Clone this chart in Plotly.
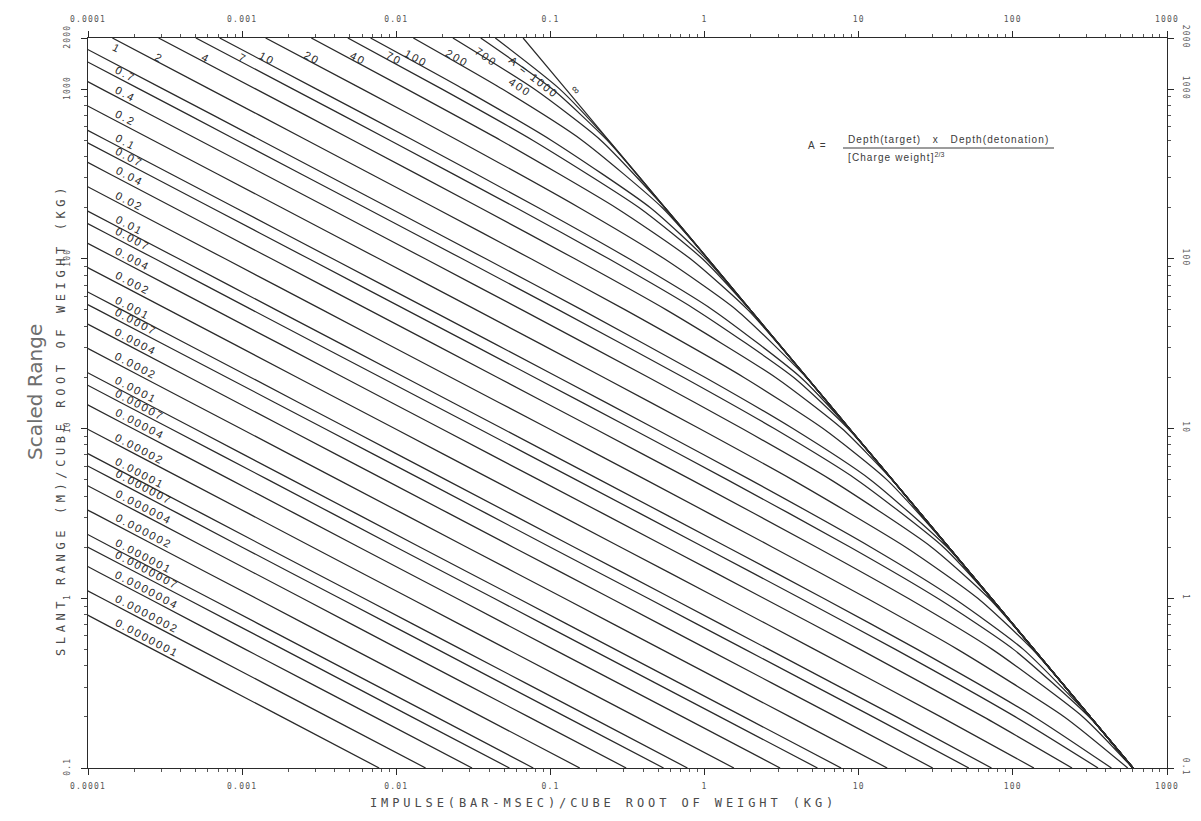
import numpy as np
import plotly.graph_objects as go

# ---------------- data ----------------
# scaled slant range (m / kg^(1/3)) at which every curve is sampled
SCALED_RANGE = [2000, 1000, 500, 200, 100, 50, 20, 10, 5, 2, 1, 0.5, 0.2, 0.1]

# scaled impulse (bar-ms / kg^(1/3)) of each A-curve at the ranges above
LABELS_SMALL_A = ["0.0000001", "0.0000002", "0.0000004", "0.0000007", "0.000001", "0.000002",
                  "0.000004", "0.000007", "0.00001", "0.00002", "0.00004", "0.00007"]
IMPULSE_SMALL_A = [
    [7.19e-12, 3.08e-11, 1.32e-10, 9.05e-10, 3.88e-09, 1.66e-08, 1.14e-07, 4.89e-07, 2.09e-06, 1.43e-05, 6.15e-05, 0.000264, 0.00181, 0.00774],
    [1.44e-11, 6.16e-11, 2.64e-10, 1.81e-09, 7.76e-09, 3.33e-08, 2.28e-07, 9.77e-07, 4.19e-06, 2.87e-05, 0.000123, 0.000527, 0.00361, 0.0155],
    [2.88e-11, 1.23e-10, 5.29e-10, 3.62e-09, 1.55e-08, 6.65e-08, 4.56e-07, 1.95e-06, 8.38e-06, 5.74e-05, 0.000246, 0.00105, 0.00722, 0.031],
    [5.03e-11, 2.16e-10, 9.25e-10, 6.34e-09, 2.72e-08, 1.16e-07, 7.98e-07, 3.42e-06, 1.47e-05, 0.0001, 0.00043, 0.00185, 0.0126, 0.0542],
    [7.19e-11, 3.08e-10, 1.32e-09, 9.05e-09, 3.88e-08, 1.66e-07, 1.14e-06, 4.89e-06, 2.09e-05, 0.000143, 0.000615, 0.00264, 0.0181, 0.0774],
    [1.44e-10, 6.16e-10, 2.64e-09, 1.81e-08, 7.76e-08, 3.33e-07, 2.28e-06, 9.77e-06, 4.19e-05, 0.000287, 0.00123, 0.00527, 0.0361, 0.155],
    [2.88e-10, 1.23e-09, 5.29e-09, 3.62e-08, 1.55e-07, 6.65e-07, 4.56e-06, 1.95e-05, 8.38e-05, 0.000574, 0.00246, 0.0105, 0.0722, 0.31],
    [5.03e-10, 2.16e-09, 9.25e-09, 6.34e-08, 2.72e-07, 1.16e-06, 7.98e-06, 3.42e-05, 0.000147, 0.001, 0.0043, 0.0185, 0.126, 0.542],
    [7.19e-10, 3.08e-09, 1.32e-08, 9.05e-08, 3.88e-07, 1.66e-06, 1.14e-05, 4.89e-05, 0.000209, 0.00143, 0.00615, 0.0264, 0.181, 0.774],
    [1.44e-09, 6.16e-09, 2.64e-08, 1.81e-07, 7.76e-07, 3.33e-06, 2.28e-05, 9.77e-05, 0.000419, 0.00287, 0.0123, 0.0527, 0.361, 1.55],
    [2.88e-09, 1.23e-08, 5.29e-08, 3.62e-07, 1.55e-06, 6.65e-06, 4.56e-05, 0.000195, 0.000838, 0.00574, 0.0246, 0.105, 0.722, 3.09],
    [5.03e-09, 2.16e-08, 9.25e-08, 6.34e-07, 2.72e-06, 1.16e-05, 7.98e-05, 0.000342, 0.00147, 0.01, 0.043, 0.184, 1.26, 5.4],
]

LABELS_MID_A = ["0.0001", "0.0002", "0.0004", "0.0007", "0.001", "0.002", "0.004", "0.007"]
IMPULSE_MID_A = [
    [7.19e-09, 3.08e-08, 1.32e-07, 9.05e-07, 3.88e-06, 1.66e-05, 0.000114, 0.000488, 0.00209, 0.0143, 0.0615, 0.263, 1.8, 7.69],
    [1.44e-08, 6.16e-08, 2.64e-07, 1.81e-06, 7.76e-06, 3.33e-05, 0.000228, 0.000977, 0.00419, 0.0287, 0.123, 0.526, 3.59, 15.3],
    [2.88e-08, 1.23e-07, 5.29e-07, 3.62e-06, 1.55e-05, 6.65e-05, 0.000456, 0.00195, 0.00838, 0.0573, 0.246, 1.05, 7.14, 30.2],
    [5.03e-08, 2.16e-07, 9.25e-07, 6.34e-06, 2.72e-05, 0.000116, 0.000798, 0.00342, 0.0147, 0.1, 0.429, 1.83, 12.4, 51.8],
    [7.19e-08, 3.08e-07, 1.32e-06, 9.05e-06, 3.88e-05, 0.000166, 0.00114, 0.00488, 0.0209, 0.143, 0.612, 2.61, 17.6, 72.7],
    [1.44e-07, 6.16e-07, 2.64e-06, 1.81e-05, 7.76e-05, 0.000333, 0.00228, 0.00976, 0.0418, 0.286, 1.22, 5.17, 34.1, 137],
    [2.88e-07, 1.23e-06, 5.29e-06, 3.62e-05, 0.000155, 0.000665, 0.00456, 0.0195, 0.0836, 0.57, 2.42, 10.2, 64.6, 242],
    [5.03e-07, 2.16e-06, 9.25e-06, 6.34e-05, 0.000272, 0.00116, 0.00797, 0.0341, 0.146, 0.991, 4.18, 17.3, 104, 357],
]

LABELS_UPPER_A = ["0.01", "0.02", "0.04", "0.07", "0.1", "0.2", "0.4", "0.7"]
IMPULSE_UPPER_A = [
    [7.19e-07, 3.08e-06, 1.32e-05, 9.05e-05, 0.000388, 0.00166, 0.0114, 0.0487, 0.208, 1.41, 5.9, 24, 138, 436],
    [1.44e-06, 6.16e-06, 2.64e-05, 0.000181, 0.000776, 0.00332, 0.0227, 0.0972, 0.414, 2.76, 11.3, 43.8, 216, 556],
    [2.88e-06, 1.23e-05, 5.29e-05, 0.000362, 0.00155, 0.00664, 0.0454, 0.193, 0.817, 5.33, 20.9, 73.6, 285, 599],
    [5.03e-06, 2.16e-05, 9.25e-05, 0.000633, 0.00271, 0.0116, 0.0791, 0.335, 1.4, 8.83, 32.5, 101, 312, 602],
    [7.19e-06, 3.08e-05, 0.000132, 0.000904, 0.00387, 0.0166, 0.113, 0.475, 1.97, 12, 41.4, 117, 317, 602],
    [1.44e-05, 6.16e-05, 0.000264, 0.00181, 0.00773, 0.033, 0.222, 0.924, 3.7, 20.2, 59.2, 134, 318, 602],
    [2.88e-05, 0.000123, 0.000528, 0.00361, 0.0154, 0.0654, 0.434, 1.75, 6.57, 29.7, 70, 137, 318, 602],
    [5.03e-05, 0.000216, 0.000923, 0.0063, 0.0268, 0.113, 0.732, 2.83, 9.71, 35.5, 72.2, 137, 318, 602],
]

LABELS_LARGE_A = ["1", "2", "4", "7", "10", "20", "40", "70", "100", "200", "400", "700", "A = 1000"]
IMPULSE_LARGE_A = [
    [7.19e-05, 0.000308, 0.00132, 0.00898, 0.0381, 0.16, 1.01, 3.74, 11.9, 37.4, 72.4, 137, 318, 602],
    [0.000144, 0.000615, 0.00263, 0.0178, 0.0748, 0.306, 1.8, 5.87, 15.2, 38.2, 72.4, 137, 318, 602],
    [0.000287, 0.00123, 0.00523, 0.035, 0.144, 0.565, 2.89, 7.78, 16.4, 38.3, 72.4, 137, 318, 602],
    [0.000501, 0.00214, 0.00907, 0.0599, 0.239, 0.88, 3.79, 8.53, 16.5, 38.3, 72.4, 137, 318, 602],
    [0.000715, 0.00304, 0.0129, 0.0835, 0.324, 1.13, 4.21, 8.67, 16.5, 38.3, 72.4, 137, 318, 602],
    [0.00142, 0.00602, 0.025, 0.154, 0.548, 1.61, 4.57, 8.7, 16.5, 38.3, 72.4, 137, 318, 602],
    [0.00281, 0.0117, 0.0474, 0.266, 0.809, 1.91, 4.6, 8.7, 16.5, 38.3, 72.4, 137, 318, 602],
    [0.00485, 0.0198, 0.0766, 0.377, 0.968, 1.97, 4.6, 8.7, 16.5, 38.3, 72.4, 137, 318, 602],
    [0.00681, 0.0273, 0.101, 0.445, 1.02, 1.98, 4.6, 8.7, 16.5, 38.3, 72.4, 137, 318, 602],
    [0.0129, 0.0487, 0.16, 0.532, 1.05, 1.98, 4.6, 8.7, 16.5, 38.3, 72.4, 137, 318, 602],
    [0.0233, 0.0786, 0.212, 0.552, 1.05, 1.98, 4.6, 8.7, 16.5, 38.3, 72.4, 137, 318, 602],
    [0.0353, 0.103, 0.233, 0.553, 1.05, 1.98, 4.6, 8.7, 16.5, 38.3, 72.4, 137, 318, 602],
    [0.0439, 0.115, 0.237, 0.553, 1.05, 1.98, 4.6, 8.7, 16.5, 38.3, 72.4, 137, 318, 602],
]

LABEL_A_INF = "\u221e"
IMPULSE_A_INF = [0.0665, 0.126, 0.238, 0.553, 1.05, 1.98, 4.6, 8.7, 16.5, 38.3, 72.4, 137, 318, 602]

X_TICKS = [0.0001, 0.001, 0.01, 0.1, 1, 10, 100, 1000]
X_TICK_TEXT = ["0.0001", "0.001", "0.01", "0.1", "1", "10", "100", "1000"]
Y_TICKS = [0.1, 1, 10, 100, 1000, 2000]
Y_TICK_TEXT = ["0.1", "1", "10", "100", "1000", "2000"]

# ---------------- layout constants (screen pixels) ----------------
OFF = 8                       # default page margin around the plot div
W, H = 1201 - 2 * OFF, 821 - 2 * OFF
PL, PR, PT, PB = 88, 1167, 38, 768      # plot area edges on screen
ML, MT = PL - OFF, PT - OFF
MR, MB = W - (PR - OFF), H - (PB - OFF)
PW, PH = PR - PL, PB - PT
XR = [-4, 3]
YR = [-1, float(np.log10(2000))]
INK = "#2a2a2a"
GREY = "#555555"


def paper(px, py):
    return (px - PL) / PW, (PB - py) / PH


def curve_pixels(xs):
    cx = PL + (np.log10(np.array(xs, float)) - XR[0]) / (XR[1] - XR[0]) * PW
    cy = PT + (YR[1] - np.log10(np.array(SCALED_RANGE, float))) / (YR[1] - YR[0]) * PH
    return cx, cy


def spaced(s, sp):
    return '<span style="letter-spacing:%spx">%s</span>' % (sp, s)


curves = []
for lab, row in zip(LABELS_SMALL_A, IMPULSE_SMALL_A):
    curves.append((lab, row, "left"))
for lab, row in zip(LABELS_MID_A, IMPULSE_MID_A):
    curves.append((lab, row, "left"))
for lab, row in zip(LABELS_UPPER_A, IMPULSE_UPPER_A):
    curves.append((lab, row, "left"))
for lab, row in zip(LABELS_LARGE_A, IMPULSE_LARGE_A):
    curves.append((lab, row, "top"))
curves.append((LABEL_A_INF, IMPULSE_A_INF, "top"))

fig = go.Figure()
for lab, row, _ in curves:
    fig.add_trace(go.Scatter(
        x=row, y=SCALED_RANGE, mode="lines", name="A = " + lab,
        line=dict(color=INK, width=1.25, shape="spline", smoothing=0.6),
        hoverinfo="skip", showlegend=False))

# invisible trace carrying the mirrored (top / right) axes
fig.add_trace(go.Scatter(x=[X_TICKS[0], X_TICKS[-1]], y=[Y_TICKS[0], Y_TICKS[-1]],
                         xaxis="x2", yaxis="y2", mode="markers",
                         marker=dict(opacity=0), hoverinfo="skip", showlegend=False))

# ---------------- curve labels ----------------
# top labels: (screen y of the label centre, horizontal offset from the curve)
TOP_LABEL_POS = {"1": (48, 32), "700": (57, -21), "A = 1000": (77, -11),
                 "400": (87, -11), LABEL_A_INF: (90, 10)}
annotations = []
LFONT = dict(family="Liberation Sans", size=11, color=INK)
for lab, row, kind in curves:
    cx, cy = curve_pixels(row)
    if kind == "left":
        w = sum(0.556 * 11 + 2 if ch.isdigit() else 0.278 * 11 + 2 for ch in lab)
        x0 = 113.0
        sl = (np.interp(x0 + 20, cx, cy) - np.interp(x0, cx, cy)) / 20
        th = np.arctan(sl)
        px = x0 + 0.5 * w * np.cos(th)
        py = np.interp(px, cx, cy)
        px2 = px + 7 * np.sin(th)
        py2 = py - 7 * np.cos(th)
    else:
        py2, dx = TOP_LABEL_POS.get(lab, (58, 9))
        pxc = np.interp(py2, cy, cx)
        sl = (np.interp(py2 + 6, cy, cx) - np.interp(py2 - 6, cy, cx)) / 12
        th = np.arctan2(1.0, sl)
        px2 = pxc + dx
    ax_, ay_ = paper(px2, py2)
    annotations.append(dict(x=ax_, y=ay_, xref="paper", yref="paper", text=spaced(lab, 2),
                            textangle=float(np.degrees(th)), showarrow=False,
                            xanchor="center", yanchor="middle", font=LFONT))

# ---------------- titles & formula ----------------
TFONT = dict(family="DejaVu Sans Mono", size=12, color="#4a4a4a")
x, y = paper(603, 803)
annotations.append(dict(x=x, y=y, xref="paper", yref="paper", showarrow=False,
                        text=spaced("IMPULSE(BAR-MSEC)/CUBE ROOT OF WEIGHT (KG)", 3.9),
                        font=TFONT, xanchor="center", yanchor="middle"))
x, y = paper(61, 420)
annotations.append(dict(x=x, y=y, xref="paper", yref="paper", showarrow=False,
                        text=spaced("SLANT RANGE (M)/CUBE ROOT OF WEIGHT (KG)", 4.6),
                        font=TFONT, textangle=-90, xanchor="center", yanchor="middle"))
x, y = paper(35, 392)
annotations.append(dict(x=x, y=y, xref="paper", yref="paper", showarrow=False,
                        text="Scaled Range", textangle=-90,
                        font=dict(family="DejaVu Sans", size=20, color="#6e6e6e"),
                        xanchor="center", yanchor="middle"))
FFONT = dict(family="Liberation Sans", size=10, color="#3a3a3a")
x, y = paper(817, 146)
annotations.append(dict(x=x, y=y, xref="paper", yref="paper", showarrow=False,
                        text="A  =", font=FFONT, xanchor="center", yanchor="middle"))
x, y = paper(948, 139)
annotations.append(dict(x=x, y=y, xref="paper", yref="paper", showarrow=False,
                        text=spaced("Depth(target)   x   Depth(detonation)", 1.1), font=FFONT,
                        xanchor="center", yanchor="middle"))
x, y = paper(846, 157)
annotations.append(dict(x=x, y=y, xref="paper", yref="paper", showarrow=False,
                        text=spaced("[Charge weight]", 1.1) + "<sup>2/3</sup>", font=FFONT,
                        xanchor="left", yanchor="middle"))
fx0, fy = paper(843, 148)
fx1, _ = paper(1054, 148)
shapes = [dict(type="line", xref="paper", yref="paper", x0=fx0, x1=fx1, y0=fy, y1=fy,
               line=dict(color="#3a3a3a", width=1))]

# ---------------- axes ----------------
x_minor = [m * 10.0 ** e for e in range(-4, 3) for m in range(2, 10)]
y_minor = [m * 10.0 ** e for e in range(-1, 3) for m in range(2, 10)]
TICKFONT = dict(family="DejaVu Sans Mono", size=8, color=GREY)
xt = [spaced(t, 1.2) for t in X_TICK_TEXT]
yt = [spaced(t, 1.2) for t in Y_TICK_TEXT]

common_x = dict(type="log", range=XR, showgrid=False, zeroline=False, showline=True,
                linecolor=INK, linewidth=1.3, ticks="outside", ticklen=6, tickwidth=1,
                tickcolor=INK, tickmode="array", tickvals=X_TICKS, ticktext=xt,
                tickfont=TICKFONT,
                minor=dict(tickmode="array", tickvals=x_minor, ticks="outside", ticklen=3,
                           tickwidth=1, tickcolor="#555", showgrid=False))
common_y = dict(type="log", range=YR, showgrid=False, zeroline=False, showline=True,
                linecolor=INK, linewidth=1.3, ticks="outside", ticklen=6, tickwidth=1,
                tickcolor=INK, tickmode="array", tickvals=Y_TICKS, ticktext=yt,
                tickfont=TICKFONT,
                minor=dict(tickmode="array", tickvals=y_minor, ticks="outside", ticklen=3,
                           tickwidth=1, tickcolor="#555", showgrid=False))

fig.update_layout(
    width=W, height=H,
    margin=dict(l=ML, r=MR, t=MT, b=MB, pad=0, autoexpand=False),
    paper_bgcolor="white", plot_bgcolor="white",
    xaxis=dict(**common_x, side="bottom", ticklabelstandoff=4, automargin=False),
    yaxis=dict(**common_y, side="left", tickangle=-90, ticklabelstandoff=8, automargin=False),
    xaxis2=dict(**common_x, side="top", overlaying="x", anchor="y2", ticklabelstandoff=6,
                automargin=False),
    yaxis2=dict(**common_y, side="right", overlaying="y", anchor="x2", tickangle=90,
                ticklabelstandoff=6, automargin=False),
    annotations=annotations, shapes=shapes,
    showlegend=False,
)

fig.write_html("out.html")
